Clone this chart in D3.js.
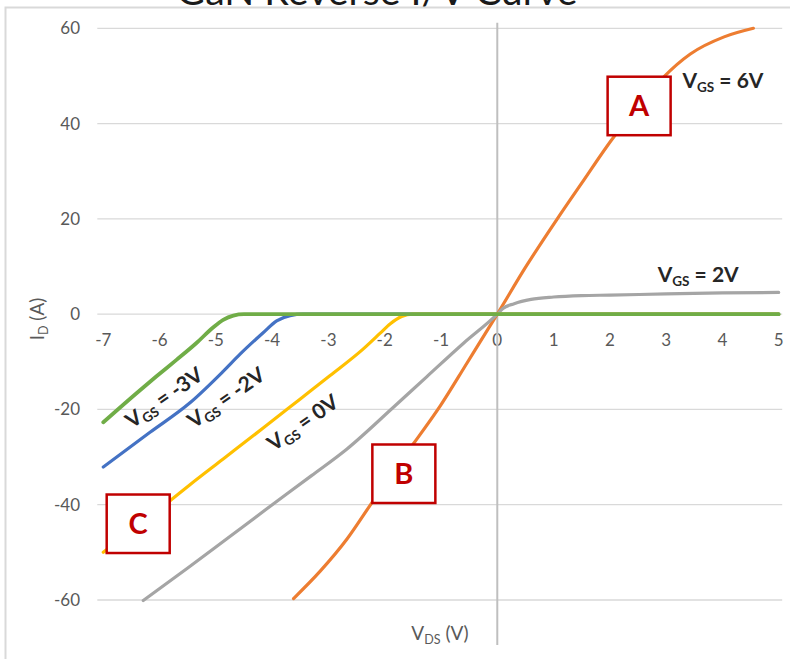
<!DOCTYPE html>
<html>
<head>
<meta charset="utf-8">
<script src="https://cdn.jsdelivr.net/npm/d3@7"></script>
<style>
  html, body { margin: 0; padding: 0; background: #fff; overflow: hidden; }
  svg { display: block; font-family: Lato, "Open Sans", sans-serif; }
</style>
</head>
<body>
<svg id="chart" width="790" height="659"></svg>
<script>
// ---- chart text and ticks ----
const titleText = "GaN Reverse I/V Curve";
const xTicks = [-7, -6, -5, -4, -3, -2, -1, 0, 1, 2, 3, 4, 5];
const yTicks = [-60, -40, -20, 0, 20, 40, 60];

// ---- measured curves: drain-source voltage (V) and drain current (A) ----
// VGS = -2V
const vdsNeg2 = [-7, -6.17, -5.46, -4.87, -4.57, -4.16, -3.92, -3.68, -3.45, 5];
const idNeg2  = [-32.1, -24.8, -18.6, -12.0, -8.4, -3.9, -1.4, -0.3, 0, 0];
// VGS = 6V
const vdsPos6 = [-3.62, -3.15, -2.67, -2.23, -1.85, -1.49, -1.01, -0.54, 0, 0.5, 1.06, 1.5, 2.07, 2.5, 2.96, 3.43, 4.03, 4.55];
const idPos6  = [-59.7, -54.0, -47.2, -39.6, -33.0, -27.2, -19.2, -10.3, 0, 9.8, 19.9, 27.5, 37.2, 43.4, 49.8, 54.6, 58.2, 60];
// VGS = 2V
const vdsPos2 = [-6.29, -5.5, -4.81, -4.1, -3.3, -2.67, -1.85, -1.25, -0.6, 0, 0.1, 0.3, 0.6, 1, 1.5, 2, 3, 4, 5];
const idPos2  = [-60.1, -53.3, -47.2, -40.9, -33.9, -28.3, -19.6, -13.1, -6.1, 0, 1.2, 2.2, 3.1, 3.6, 3.9, 4.0, 4.25, 4.45, 4.55];
// VGS = 0V
const vdsZero = [-7, -6.4, -5.82, -5.46, -4.87, -4.16, -3.5, -2.97, -2.38, -2.08, -1.9, -1.7, -1.5, 5];
const idZero  = [-50, -44.5, -39.2, -35.8, -30.4, -23.9, -17.8, -12.9, -7.3, -4.0, -2.0, -0.5, 0, 0];
// VGS = -3V
const vdsNeg3 = [-7, -6.41, -6.06, -5.7, -5.34, -5.05, -4.87, -4.69, -4.5, 5];
const idNeg3  = [-22.7, -16.6, -13.1, -9.6, -6.0, -2.8, -1.2, -0.3, 0, 0];

const seriesColors = ["#4472c4", "#ed7d31", "#a5a5a5", "#ffc000", "#70ad47"];
const seriesVds = [vdsNeg2, vdsPos6, vdsPos2, vdsZero, vdsNeg3];
const seriesId  = [idNeg2, idPos6, idPos2, idZero, idNeg3];

// ---- annotations, placed in data units ----
const boxLetters = ["A", "B", "C"];
const boxVds = [2.52, -1.66, -6.38];
const boxId  = [43.7, -33.5, -44.0];

const labelValues = ["6V", "2V", "-3V", "-2V", "0V"];
const labelVds = [3.29, 2.85, -6.49, -5.39, -3.97];
const labelId  = [47.4, 6.7, -24.1, -24.1, -28.9];
const labelAngle = [0, 0, -35, -35, -35];

// ---- layout ----
const svg = d3.select("#chart");
const x = d3.scaleLinear().domain([-7, 5]).range([103.3, 778.7]);
const y = d3.scaleLinear().domain([-60, 60]).range([600, 28.3]);
const gridLeft = x.range()[0] - 6, gridRight = x.range()[1] + 3.5;

// outer frame
svg.append("rect")
  .attr("x", 5.5).attr("y", 7.5).attr("width", 820).attr("height", 700)
  .attr("fill", "none").attr("stroke", "#d9d9d9").attr("stroke-width", 2);

// title, sized to its line
const title = svg.append("text")
  .attr("x", 377).attr("y", 5)
  .attr("text-anchor", "middle")
  .attr("fill", "#1a1a1a")
  .attr("font-size", 32)
  .text(titleText);
const tw = title.node().getComputedTextLength();
title.attr("font-size", 32 * 401 / tw);

// horizontal gridlines
svg.append("g").selectAll("line").data(yTicks).join("line")
  .attr("x1", gridLeft).attr("x2", gridRight)
  .attr("y1", d => y(d)).attr("y2", d => y(d))
  .attr("stroke", "#d9d9d9").attr("stroke-width", 1.3);

// y tick labels
svg.append("g").selectAll("text").data(yTicks).join("text")
  .attr("x", 80).attr("y", d => y(d) + 6)
  .attr("text-anchor", "end")
  .attr("font-size", 17).attr("fill", "#595959")
  .text(d => d);

// x tick labels, just below the zero line
svg.append("g").selectAll("text").data(xTicks).join("text")
  .attr("x", d => x(d)).attr("y", y(0) + 32)
  .attr("text-anchor", "middle")
  .attr("font-size", 17).attr("fill", "#595959")
  .text(d => d);

// vertical axis at VDS = 0
svg.append("line")
  .attr("x1", x(0)).attr("x2", x(0))
  .attr("y1", y(60) - 5.5).attr("y2", 645)
  .attr("stroke", "#bfbfbf").attr("stroke-width", 2);

// curves
const line = d3.line()
  .x(d => x(d[0])).y(d => y(d[1]))
  .curve(d3.curveMonotoneX);
seriesVds.forEach((vds, k) => {
  const pts = vds.map((v, j) => [v, seriesId[k][j]]);
  svg.append("path")
    .attr("d", line(pts))
    .attr("fill", "none")
    .attr("stroke", seriesColors[k])
    .attr("stroke-width", k === 4 ? 3.8 : 3.2)
    .attr("stroke-linejoin", "round")
    .attr("stroke-linecap", "round");
});

// lettered boxes
const bw = 63, bh = 58.5;
boxLetters.forEach((t, k) => {
  const cx = x(boxVds[k]), cy = y(boxId[k]);
  svg.append("rect")
    .attr("x", cx - bw / 2).attr("y", cy - bh / 2)
    .attr("width", bw).attr("height", bh)
    .attr("fill", "#fff").attr("stroke", "#c00000").attr("stroke-width", 2.5);
  svg.append("text")
    .attr("x", cx).attr("y", cy + 10.5)
    .attr("text-anchor", "middle")
    .attr("font-size", 29).attr("font-weight", 700)
    .attr("fill", "#c00000")
    .text(t);
});

// VGS labels
labelValues.forEach((val, k) => {
  const t = svg.append("text")
    .attr("transform", `translate(${x(labelVds[k])},${y(labelId[k])}) rotate(${labelAngle[k]})`)
    .attr("font-size", 21).attr("font-weight", 700)
    .attr("fill", "#262626");
  t.append("tspan").text("V");
  t.append("tspan").attr("dy", 4).attr("font-size", 13.5).text("GS");
  t.append("tspan").attr("dy", -4).text(" = " + val);
});

// axis titles
const yTitle = svg.append("text")
  .attr("transform", `translate(44,${319}) rotate(-90)`)
  .attr("text-anchor", "middle")
  .attr("font-size", 19).attr("fill", "#595959");
yTitle.append("tspan").text("I");
yTitle.append("tspan").attr("dy", 4).attr("font-size", 12.5).text("D");
yTitle.append("tspan").attr("dy", -4).text(" (A)");

const xTitle = svg.append("text")
  .attr("x", 440).attr("y", 640)
  .attr("text-anchor", "middle")
  .attr("font-size", 19).attr("fill", "#595959");
xTitle.append("tspan").text("V");
xTitle.append("tspan").attr("dy", 4).attr("font-size", 12.5).text("DS");
xTitle.append("tspan").attr("dy", -4).text(" (V)");
</script>
</body>
</html>
